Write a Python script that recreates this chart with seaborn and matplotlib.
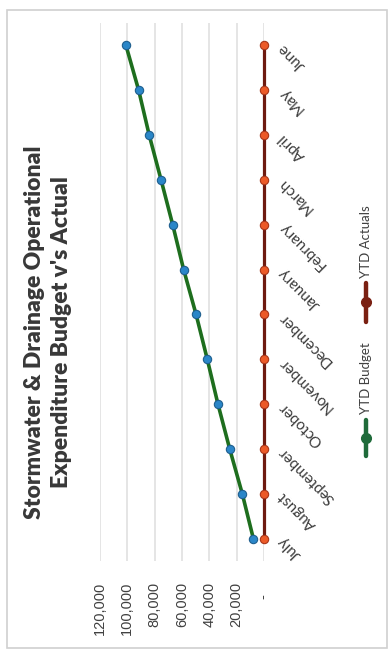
import matplotlib
matplotlib.use("Agg")
import matplotlib.pyplot as plt
import seaborn as sns
import pandas as pd
from matplotlib.lines import Line2D
from matplotlib.patches import Rectangle
from matplotlib.ticker import FuncFormatter

months = ["July", "August", "September", "October", "November", "December",
          "January", "February", "March", "April", "May", "June"]
ytd_budget = [7800, 15900, 25100, 33700, 41500, 49700,
              58800, 66800, 75300, 84000, 91700, 101000]
ytd_actuals = [0, 0, 0, 0, 0, 0, 0, 0, 0, 0, 0, 0]
value_ticks = [0, 20000, 40000, 60000, 80000, 100000, 120000]
title = "Stormwater & Drainage Operational\nExpenditure Budget v's Actual"
legend_labels = ["YTD Budget", "YTD Actuals"]

sns.set_theme(style="white")
plt.rcParams["font.family"] = ["Lato", "DejaVu Sans"]

pos = list(range(len(months)))
df_b = pd.DataFrame({"value": ytd_budget, "pos": pos})
df_a = pd.DataFrame({"value": ytd_actuals, "pos": pos})

W, H = 390, 651
fig = plt.figure(figsize=(W / 100, H / 100), dpi=100)
fig.patch.set_facecolor("white")

def fx(px):
    return px / W

def fy(py):
    return 1 - py / H

ax = fig.add_axes([fx(100), fy(561), fx(264) - fx(100), fy(23) - fy(561)])
ax.set_facecolor("white")

green = "#1e6e1e"
blue = "#2a86c8"
red_line = "#6e1a10"
red_mark = "#ec5a28"

sns.lineplot(data=df_b, x="value", y="pos", orient="y", sort=False, ax=ax,
             color=green, linewidth=2.6, marker="o", markersize=6,
             markerfacecolor=blue, markeredgecolor="#1f5f8f", markeredgewidth=0.8,
             zorder=3, clip_on=False)
sns.lineplot(data=df_a, x="value", y="pos", orient="y", sort=False, ax=ax,
             color=red_line, linewidth=2.3, marker="o", markersize=6,
             markerfacecolor=red_mark, markeredgecolor="#a8361a", markeredgewidth=0.8,
             zorder=4, clip_on=False)

ax.set_xlim(120000, 0)
ax.set_ylim(-0.5, len(months) - 0.5)
ax.set_xticks(value_ticks)
ax.xaxis.set_major_formatter(FuncFormatter(lambda v, p: "-   " if v == 0 else f"{int(v):,}"))
ax.grid(axis="x", color="#e0e0e0", linewidth=1.2)
ax.grid(axis="y", visible=False)
for s in ax.spines.values():
    s.set_visible(False)

ax.set_xlabel("")
ax.set_ylabel("")
ax.tick_params(axis="x", length=0, pad=15, labelsize=10.5, colors="#404040")
for lab in ax.get_xticklabels():
    lab.set_rotation(90)
    lab.set_ha("center")
    lab.set_va("top")
    lab.set_family(["Liberation Sans", "DejaVu Sans"])

ax.yaxis.tick_right()
ax.set_yticks(pos)
ax.set_yticklabels(months)
ax.tick_params(axis="y", length=0, pad=12, labelsize=11, colors="#3c3c3c")
for lab in ax.get_yticklabels():
    lab.set_rotation(135)
    lab.set_rotation_mode("anchor")
    lab.set_ha("right")
    lab.set_va("center")

fig.text(fx(48), fy(332), title, rotation=90, ha="center", va="center",
         fontsize=16.5, fontweight="heavy", color="#383838", linespacing=1.3,
         multialignment="center")

# legend (drawn rotated to match the chart orientation)
leg_x = fx(366)
fig.add_artist(Line2D([leg_x, leg_x], [fy(456), fy(420)], color="#1f6b3a", linewidth=3.2,
                      transform=fig.transFigure))
fig.add_artist(Line2D([leg_x], [fy(438)], marker="o", markersize=7, color="#1f6b3a",
                      transform=fig.transFigure))
fig.text(leg_x, fy(414), legend_labels[0], rotation=90, ha="center", va="bottom",
         fontsize=9.5, color="#404040")
fig.add_artist(Line2D([leg_x, leg_x], [fy(322), fy(283)], color="#7a2012", linewidth=3.2,
                      transform=fig.transFigure))
fig.add_artist(Line2D([leg_x], [fy(302)], marker="o", markersize=7, color="#7a2012",
                      transform=fig.transFigure))
fig.text(leg_x, fy(278), legend_labels[1], rotation=90, ha="center", va="bottom",
         fontsize=9.5, color="#404040")

fig.add_artist(Rectangle((fx(7), fy(648)), fx(387) - fx(7), fy(10) - fy(648),
                         transform=fig.transFigure, fill=False,
                         edgecolor="#d0d0d0", linewidth=1.2))

fig.savefig("out.png", dpi=100, facecolor="white")
